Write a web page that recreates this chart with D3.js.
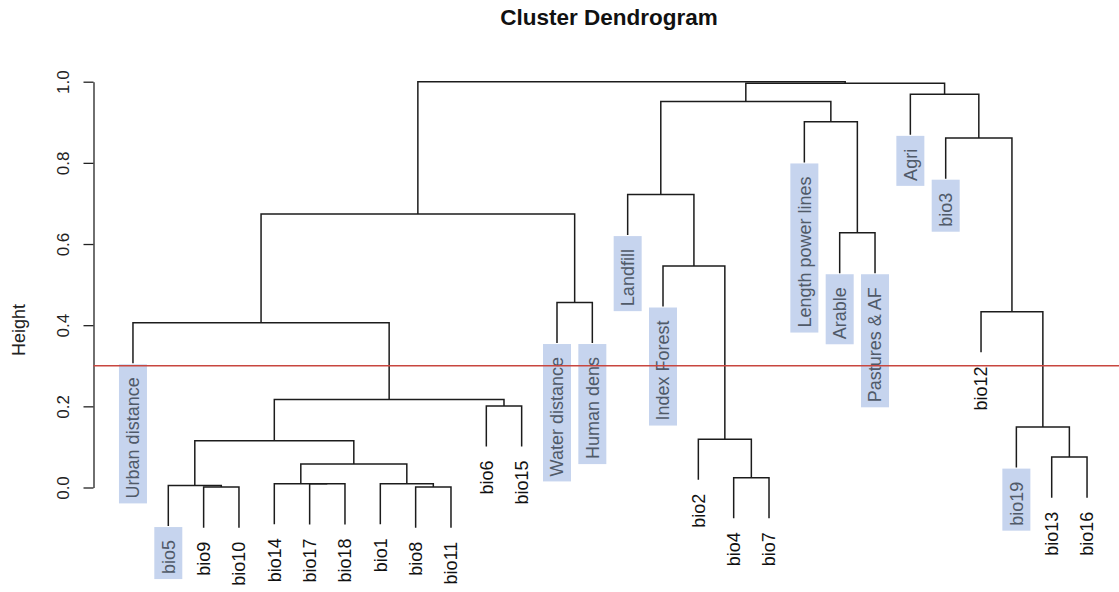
<!DOCTYPE html>
<html>
<head>
<meta charset="utf-8">
<script src="https://cdn.jsdelivr.net/npm/d3@7"></script>
<style>
body{margin:0;background:#fff;}
svg{display:block;font-family:"Liberation Sans",Arial,sans-serif;}
</style>
</head>
<body>
<svg width="1119" height="592"></svg>
<script>
'use strict'; //strict mode

//leaves in plotting order
var leafLabels = ['Urban distance','bio5','bio9','bio10','bio14','bio17','bio18','bio1','bio8','bio11',
  'bio6','bio15','Water distance','Human dens','Landfill','Index Forest','bio2','bio4','bio7',
  'Length power lines','Arable','Pastures & AF','Agri','bio3','bio12','bio19','bio13','bio16'];

//labels with the blue highlight
var highlighted = ['Urban distance','bio5','Water distance','Human dens','Landfill','Index Forest',
  'Length power lines','Arable','Pastures & AF','Agri','bio3','bio19'];

//merge table, R style: negative = leaf position (1-based), positive = earlier merge
var merges = [
  [-3,-4],[-9,-10],[-2,1],[-6,-7],[-5,4],[-8,2],[5,6],[3,7],[-11,-12],[8,9],
  [-1,10],[-13,-14],[11,12],[-18,-19],[-17,14],[-16,15],[-15,16],[-21,-22],[-20,18],[17,19],
  [-27,-28],[-26,21],[-25,22],[-24,23],[-23,24],[20,25],[13,26]
];
var heights = [
  0.001,0.001,0.005,0.009,0.0095,0.0095,0.058,0.115,0.201,0.217,
  0.406,0.456,0.674,0.024,0.119,0.546,0.722,0.628,0.901,0.951,
  0.075,0.149,0.433,0.861,0.969,0.996,1.0
];

var yTicks = [0, 0.2, 0.4, 0.6, 0.8, 1.0];
var cutHeight = 0.3;
var hang = 0.1;

var svg = d3.select('svg');
svg.append('rect').attr('width',1119).attr('height',592).attr('fill','#fff');

var n = leafLabels.length;
var pad = 0.04*(n-1);
var x = d3.scaleLinear().domain([1-pad, n+pad]).range([94.8, 1125.2]);
var y = d3.scaleLinear().domain([0, 1]).range([487.5, 81.7]);

//work out node x positions and where each leaf line ends
var nodeX = [];
var leafEnd = {};
merges.forEach(function(m, i){
  var xs = m.map(function(c){
    if(c < 0){
      leafEnd[-c] = heights[i] - hang;
      return x(-c);
    }
    return nodeX[c-1];
  });
  nodeX[i] = (xs[0] + xs[1]) / 2;
});

function childPos(c){
  if(c < 0) return [x(-c), y(leafEnd[-c])];
  return [nodeX[c-1], y(heights[c-1])];
}

//the links
svg.append('g').selectAll('path').data(merges).enter().append('path')
  .attr('d', function(m, i){
    var a = childPos(m[0]), b = childPos(m[1]), hy = y(heights[i]);
    return 'M' + a[0] + ',' + a[1] + 'V' + hy + 'H' + b[0] + 'V' + b[1];
  })
  .attr('fill','none')
  .attr('stroke','#1c1c1c')
  .attr('stroke-width',1.5);

//leaf labels
var leafData = leafLabels.map(function(name, i){
  return {name:name, pos:i+1, end:leafEnd[i+1], hl: highlighted.indexOf(name) >= 0};
});

var leafG = svg.append('g').selectAll('g').data(leafData).enter().append('g')
  .attr('transform', function(d){
    return 'translate(' + x(d.pos) + ',' + (y(d.end) + 14) + ') rotate(-90)';
  });

leafG.append('text')
  .attr('text-anchor','end')
  .attr('dy','0.35em')
  .attr('font-size',18)
  .attr('fill', function(d){ return d.hl ? '#505a69' : '#111'; })
  .text(function(d){ return d.name; });

leafG.filter(function(d){ return d.hl; }).each(function(){
  var w = this.querySelector('text').getComputedTextLength();
  d3.select(this).insert('rect','text')
    .attr('x', -w - 5)
    .attr('y', -14)
    .attr('width', w + 5 + 13)
    .attr('height', 28)
    .attr('fill','#c6d4ee');
});

//y axis
var yAxis = d3.axisLeft(y).tickValues(yTicks).tickFormat(d3.format('.1f')).tickSize(10).tickSizeOuter(0);
var axisG = svg.append('g').attr('transform','translate(93.5,0)').call(yAxis);
axisG.attr('font-family', null).attr('font-size', 17);
axisG.select('.domain').attr('stroke','#222').attr('stroke-width',1.3);
axisG.selectAll('.tick line').attr('stroke','#222').attr('stroke-width',1.3);
axisG.selectAll('.tick text')
  .attr('x', 0).attr('dy', 0)
  .attr('text-anchor','middle')
  .attr('transform','translate(-25,0) rotate(-90)')
  .attr('fill','#222');

//cut line
svg.append('line')
  .attr('x1', 93.5).attr('x2', 1119)
  .attr('y1', y(cutHeight)).attr('y2', y(cutHeight))
  .attr('stroke','#c8463f')
  .attr('stroke-width',1.5);

//titles
svg.append('text')
  .attr('x', 609).attr('y', 25)
  .attr('text-anchor','middle')
  .attr('font-weight','bold')
  .attr('font-size',22.5)
  .attr('fill','#111')
  .text('Cluster Dendrogram');

svg.append('text')
  .attr('transform','translate(25,330) rotate(-90)')
  .attr('text-anchor','middle')
  .attr('font-size',18)
  .attr('fill','#222')
  .text('Height');
</script>
</body>
</html>
